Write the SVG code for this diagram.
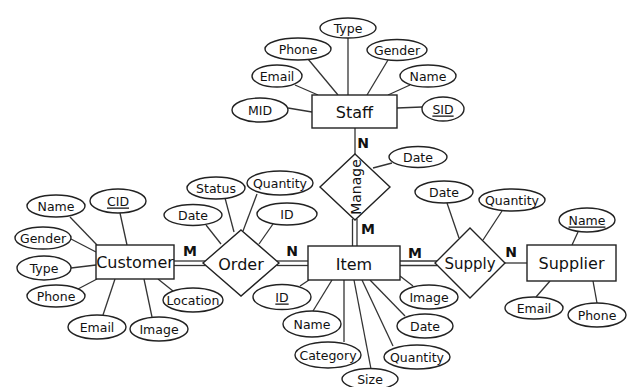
<svg xmlns="http://www.w3.org/2000/svg" width="632" height="387" viewBox="0 0 632 387">
<style>
.bg{fill:#fff}
.e{fill:#fff;stroke:#222;stroke-width:1.4}
.ent{fill:#fff;stroke:#222;stroke-width:1.4}
.rel{fill:#fff;stroke:#222;stroke-width:1.4}
.ln{stroke:#333;stroke-width:1.3;fill:none}
.at{font-family:"DejaVu Sans","Liberation Sans",sans-serif;font-size:12.5px;fill:#111;text-anchor:middle;dominant-baseline:central}
.et{font-family:"DejaVu Sans","Liberation Sans",sans-serif;font-size:16px;fill:#111;text-anchor:middle;dominant-baseline:central}
.ct{font-family:"DejaVu Sans","Liberation Sans",sans-serif;font-size:14px;font-weight:bold;fill:#111;text-anchor:middle;dominant-baseline:central}
.u{text-decoration:underline}
</style>
<rect class="bg" x="0" y="0" width="632" height="387"/>
<g id="connectors">
  <!-- Staff attributes -->
  <line class="ln" x1="348" y1="38" x2="348" y2="95"/>
  <line class="ln" x1="308" y1="59" x2="338" y2="95"/>
  <line class="ln" x1="388" y1="60" x2="367" y2="95"/>
  <line class="ln" x1="295" y1="85" x2="318" y2="95"/>
  <line class="ln" x1="410" y1="85" x2="388" y2="95"/>
  <line class="ln" x1="288" y1="108" x2="312" y2="112"/>
  <line class="ln" x1="397" y1="108" x2="422" y2="107"/>
  <!-- Staff - Manage -->
  <line class="ln" x1="355" y1="128" x2="355" y2="154"/>
  <!-- Manage Date -->
  <line class="ln" x1="373" y1="168" x2="392" y2="163"/>
  <!-- Manage - Item double -->
  <line class="ln" x1="352.5" y1="219" x2="352.5" y2="246"/>
  <line class="ln" x1="357" y1="219" x2="357" y2="246"/>
  <!-- Item - Supply double -->
  <line class="ln" x1="400" y1="261" x2="437" y2="261"/>
  <line class="ln" x1="400" y1="265.5" x2="437" y2="265.5"/>
  <!-- Supply - Supplier -->
  <line class="ln" x1="505" y1="263" x2="527" y2="263"/>
  <!-- Supply attrs -->
  <line class="ln" x1="447" y1="203" x2="459" y2="238"/>
  <line class="ln" x1="502" y1="211" x2="483" y2="240"/>
  <!-- Supplier attrs -->
  <line class="ln" x1="578" y1="232" x2="572" y2="245"/>
  <line class="ln" x1="536" y1="297" x2="550" y2="281"/>
  <line class="ln" x1="597" y1="303" x2="593" y2="281"/>
  <!-- Customer - Order double -->
  <line class="ln" x1="174" y1="261" x2="206" y2="261"/>
  <line class="ln" x1="174" y1="265.5" x2="206" y2="265.5"/>
  <!-- Order - Item double -->
  <line class="ln" x1="277" y1="261" x2="308" y2="261"/>
  <line class="ln" x1="277" y1="265.5" x2="308" y2="265.5"/>
  <!-- Order attrs -->
  <line class="ln" x1="225" y1="198" x2="234" y2="232"/>
  <line class="ln" x1="257" y1="194" x2="243" y2="231"/>
  <line class="ln" x1="206" y1="225" x2="221" y2="244"/>
  <line class="ln" x1="273" y1="224" x2="259" y2="244"/>
  <!-- Customer attrs -->
  <line class="ln" x1="70" y1="217" x2="97" y2="245"/>
  <line class="ln" x1="120" y1="213" x2="127" y2="245"/>
  <line class="ln" x1="71" y1="239" x2="96" y2="252"/>
  <line class="ln" x1="71" y1="268" x2="96" y2="265"/>
  <line class="ln" x1="78" y1="289" x2="97" y2="279"/>
  <line class="ln" x1="103" y1="315" x2="115" y2="279"/>
  <line class="ln" x1="152" y1="317" x2="144" y2="279"/>
  <line class="ln" x1="173" y1="291" x2="158" y2="279"/>
  <!-- Item attrs -->
  <line class="ln" x1="300" y1="286" x2="309" y2="280"/>
  <line class="ln" x1="313" y1="311" x2="332" y2="280"/>
  <line class="ln" x1="344" y1="280" x2="344" y2="342"/>
  <line class="ln" x1="354" y1="280" x2="371" y2="369"/>
  <line class="ln" x1="362" y1="280" x2="393" y2="346"/>
  <line class="ln" x1="370" y1="280" x2="405" y2="316"/>
  <line class="ln" x1="400" y1="276" x2="413" y2="286"/>
</g>
<g id="labels">
  <text class="ct" x="363" y="143">N</text>
  <text class="ct" x="368" y="229">M</text>
  <text class="ct" x="190" y="251">M</text>
  <text class="ct" x="292" y="251">N</text>
  <text class="ct" x="415" y="253">M</text>
  <text class="ct" x="511" y="252">N</text>
</g>
<g id="staff"><rect class="ent" x="312" y="95" width="85" height="33"/><text class="et" x="354.5" y="112">Staff</text></g>
<g id="staff-type"><ellipse class="e" cx="348" cy="28" rx="28" ry="10"/><text class="at" x="348" y="28">Type</text></g>
<g id="staff-phone"><ellipse class="e" cx="298" cy="49" rx="33" ry="11"/><text class="at" x="298" y="49">Phone</text></g>
<g id="staff-gender"><ellipse class="e" cx="397" cy="50" rx="30" ry="10.5"/><text class="at" x="397" y="50">Gender</text></g>
<g id="staff-email"><ellipse class="e" cx="277" cy="76" rx="25" ry="11"/><text class="at" x="277" y="76">Email</text></g>
<g id="staff-name"><ellipse class="e" cx="428" cy="76" rx="28" ry="11"/><text class="at" x="428" y="76">Name</text></g>
<g id="staff-mid"><ellipse class="e" cx="260" cy="110" rx="28" ry="12"/><text class="at" x="260" y="110">MID</text></g>
<g id="staff-sid"><ellipse class="e" cx="443" cy="109" rx="21" ry="12"/><text class="at u" x="443" y="109">SID</text></g>
<g id="manage"><polygon class="rel" points="355,154 390,187 355,220 320,187"/><text class="et" x="0" y="0" transform="translate(356,187) rotate(-90)" style="font-size:14px">Manage</text></g>
<g id="manage-date"><ellipse class="e" cx="418" cy="157" rx="29" ry="10.5"/><text class="at" x="418" y="157">Date</text></g>
<g id="item"><rect class="ent" x="308" y="246" width="92" height="34"/><text class="et" x="354" y="264">Item</text></g>
<g id="supply"><polygon class="rel" points="470,228 505,263 470,298 435,263"/><text class="et" x="470" y="264" style="font-size:15px">Supply</text></g>
<g id="supply-date"><ellipse class="e" cx="444" cy="192" rx="29" ry="11"/><text class="at" x="444" y="192">Date</text></g>
<g id="supply-quantity"><ellipse class="e" cx="512" cy="200" rx="33" ry="11"/><text class="at" x="512" y="200">Quantity</text></g>
<g id="supplier"><rect class="ent" x="527" y="245" width="89" height="36"/><text class="et" x="571.5" y="263">Supplier</text></g>
<g id="supplier-name"><ellipse class="e" cx="587" cy="220" rx="28" ry="12"/><text class="at u" x="587" y="220">Name</text></g>
<g id="supplier-email"><ellipse class="e" cx="534" cy="308" rx="29" ry="11"/><text class="at" x="534" y="308">Email</text></g>
<g id="supplier-phone"><ellipse class="e" cx="597" cy="315" rx="29" ry="12"/><text class="at" x="597" y="315">Phone</text></g>
<g id="order"><polygon class="rel" points="241,230 279,263 241,296 203,263"/><text class="et" x="241" y="264">Order</text></g>
<g id="order-status"><ellipse class="e" cx="216" cy="188" rx="29" ry="11"/><text class="at" x="216" y="188">Status</text></g>
<g id="order-quantity"><ellipse class="e" cx="280" cy="183" rx="33" ry="12"/><text class="at" x="280" y="183">Quantity</text></g>
<g id="order-date"><ellipse class="e" cx="193" cy="215" rx="29" ry="10.5"/><text class="at" x="193" y="215">Date</text></g>
<g id="order-id"><ellipse class="e" cx="287" cy="214" rx="30" ry="11"/><text class="at" x="287" y="214">ID</text></g>
<g id="customer"><rect class="ent" x="96" y="245" width="78" height="34"/><text class="et" x="135" y="262">Customer</text></g>
<g id="customer-name"><ellipse class="e" cx="56" cy="206" rx="29" ry="11"/><text class="at" x="56" y="206">Name</text></g>
<g id="customer-cid"><ellipse class="e" cx="118" cy="201" rx="28" ry="12"/><text class="at u" x="118" y="201">CID</text></g>
<g id="customer-gender"><ellipse class="e" cx="43" cy="238" rx="28" ry="11"/><text class="at" x="43" y="238">Gender</text></g>
<g id="customer-type"><ellipse class="e" cx="44" cy="268" rx="27" ry="12"/><text class="at" x="44" y="268">Type</text></g>
<g id="customer-phone"><ellipse class="e" cx="56" cy="296" rx="29" ry="11"/><text class="at" x="56" y="296">Phone</text></g>
<g id="customer-email"><ellipse class="e" cx="97" cy="327" rx="29" ry="12"/><text class="at" x="97" y="327">Email</text></g>
<g id="customer-image"><ellipse class="e" cx="159" cy="329" rx="29" ry="12"/><text class="at" x="159" y="329">Image</text></g>
<g id="customer-location"><ellipse class="e" cx="193" cy="300" rx="30" ry="12"/><text class="at" x="193" y="300">Location</text></g>
<g id="item-id"><ellipse class="e" cx="282" cy="297" rx="29" ry="12.5"/><text class="at u" x="282" y="297">ID</text></g>
<g id="item-name"><ellipse class="e" cx="312" cy="324" rx="29" ry="13"/><text class="at" x="312" y="324">Name</text></g>
<g id="item-category"><ellipse class="e" cx="328" cy="355" rx="33" ry="13"/><text class="at" x="328" y="355">Category</text></g>
<g id="item-size"><ellipse class="e" cx="370" cy="379" rx="28" ry="10.5"/><text class="at" x="370" y="379">Size</text></g>
<g id="item-quantity"><ellipse class="e" cx="417" cy="357" rx="33" ry="12"/><text class="at" x="417" y="357">Quantity</text></g>
<g id="item-date"><ellipse class="e" cx="425" cy="326" rx="28" ry="12"/><text class="at" x="425" y="326">Date</text></g>
<g id="item-image"><ellipse class="e" cx="429" cy="297" rx="29" ry="12"/><text class="at" x="429" y="297">Image</text></g>
</svg>
